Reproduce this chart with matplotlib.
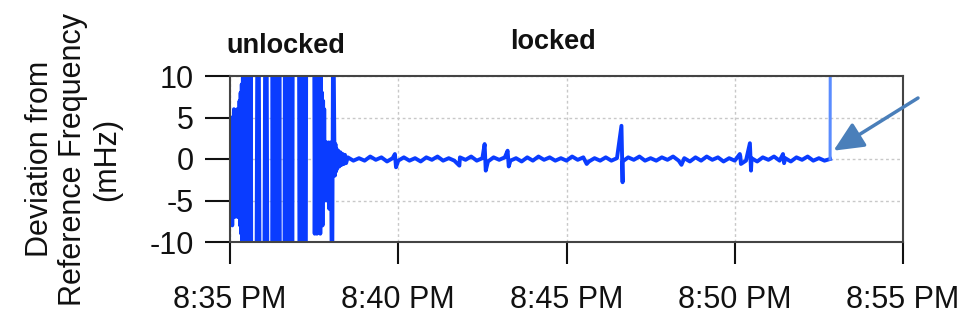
import numpy as np
import matplotlib
matplotlib.use("Agg")
import matplotlib.pyplot as plt

plt.rcParams['font.family'] = ['Liberation Sans', 'DejaVu Sans']
plt.rcParams['axes.unicode_minus'] = False

# time in seconds after 8:35:00 PM, deviation in mHz
# unlocked part (values beyond +-10 run off the plot)
t_unlock = [0, 1, 2, 3, 4, 5, 6, 7, 8, 9, 10, 11, 12, 13, 14, 15, 16, 17, 18, 19, 20, 21, 22, 23,
            24, 25, 26, 27, 28, 29, 30, 31, 32, 33, 34, 35, 36, 37, 38,
            47, 49, 51, 53, 61, 63, 65, 67,
            75, 76, 77, 78, 79, 80, 81, 82, 83, 84, 85, 86, 87, 88, 89,
            97, 98, 99, 100, 101, 102, 103, 104, 105, 106, 107, 108, 109, 110, 111, 112,
            123, 124, 126, 127, 130, 131, 135, 136,
            150, 151, 152, 153, 154, 155, 156, 157, 158, 159, 160, 161, 162, 163, 164, 165,
            166, 167, 168, 169, 170, 171, 172, 173, 174, 175, 176, 177, 178, 179, 180,
            182, 184, 186, 187, 188, 189, 190, 191, 193, 195, 197, 199, 201, 203, 205, 207]
dev_unlock = [-3, 4, -6, 5, -8, 3, -5, 6, -7, 4, -6, 5, -4, 6, -7, 5, -6, 7, -8, 8, -9, 9, -10, 11,
              -20, 20, -20, 20, -20, 20, -20, 20, -20, 20, -20, 20, -20, 20, -20,
              -20, 20, 20, -20, -20, 20, 20, -20,
              -20, 20, -20, 20, -20, 20, -20, 20, -20, 20, -20, 20, -20, 20, -20,
              -20, 20, -20, 20, -20, 20, -20, 20, -20, 20, -20, 20, -20, 20, -20, 20,
              20, -20, -20, 20, 20, -20, -20, 20,
              20, -9, 8, -8, 12, -9, 9, -7, 14, -8, 9, -9, 12, -6, 8, -8,
              7, -5, 6, -5, 2, -4, 2, -5, 1, -3, 2, -6, 1, -4, 2,
              -20, 20, 2.5, -2, 1.8, -1.5, 1.2, -1.2, 1, -0.9, 0.8, -0.7, 0.6, -0.6, 0.5, -0.5]

# locked part: readings every 10 s from 210 s
t_lock_start = 210
dev_lock = [0.2, -0.2, 0.1, -0.2, 0.3, -0.1, 0.2, -0.3, 0.1, -0.2,
            0.2, -0.2, 0.1, -0.3, 0.2, -0.1, 0.3, -0.2, 0.1, -0.2,
            0.2, -0.1, 0.3, -0.2, 0.1, -0.3, 0.2, -0.1, 0.2, -0.2,
            0.1, -0.3, 0.2, -0.2, 0.3, -0.1, 0.2, -0.2, 0.1, -0.2,
            0.3, -0.1, 0.2, -0.3, 0.1, -0.2, 0.2, -0.2, 0.1, -0.3,
            0.2, -0.1, 0.3, -0.2, 0.1, -0.2, 0.2, -0.1, 0.3, -0.2,
            0.1, -0.3, 0.2, -0.2, 0.3, -0.1, 0.2, -0.3, 0.1, -0.2,
            0.3, -0.2, 0.1, -0.3, 0.2, -0.1, 0.3, -0.2, 0.1, -0.3,
            0.2, -0.1, 0.3, -0.2, 0.1, -0.2, 0.0]

# short glitches while locked
t_spike = [294, 296, 409, 454, 456, 495, 497, 636, 698, 700, 805, 909, 911, 927, 929, 986, 988]
dev_spike = [0.6, -1.0, -0.8, 1.8, -1.4, 1.0, -0.9, -0.6, 4.0, -2.8, -0.7, 0.6, -0.6, 1.9, -1.4, 0.6, -0.5]

# end of record: trace jumps off scale
t_end = [1070, 1070.5]
dev_end = [0.0, 20]

xtick_min = [0, 5, 10, 15, 20]
xtick_labels = ["8:35 PM", "8:40 PM", "8:45 PM", "8:50 PM", "8:55 PM"]
yticks = [10, 5, 0, -5, -10]

# merge locked baseline and glitches
t_lock = t_lock_start + 10 * np.arange(len(dev_lock))
t_all = np.concatenate([t_lock, t_spike])
d_all = np.concatenate([dev_lock, dev_spike])
order = np.argsort(t_all)
t_all = np.concatenate([t_unlock, t_all[order]])
d_all = np.concatenate([dev_unlock, d_all[order]])

fig = plt.figure(figsize=(9.71, 3.25), dpi=100)
ax = fig.add_axes([230 / 971, 1 - 242 / 325, 673 / 971, 166 / 325])

ax.plot(t_all / 60, d_all, color='#0a3cff', lw=2.8)
ax.plot(np.array(t_end) / 60, dev_end, color='#5a8cff', lw=2.2)

ax.set_xlim(0, 20)
ax.set_ylim(-10, 10)
ax.set_xticks(xtick_min)
ax.set_xticklabels(xtick_labels)
ax.set_yticks(yticks)
ax.tick_params(axis='both', labelsize=22, colors='#111111', width=1.5)
ax.tick_params(axis='y', length=18, pad=8)
ax.tick_params(axis='x', length=16, pad=15)
for sp in ax.spines.values():
    sp.set_color('#444444')
    sp.set_linewidth(1.5)
ax.grid(True, color='#c8c8c8', linestyle=(0, (2, 2)), lw=1)

ax.set_ylabel("Deviation from\nReference Frequency\n(mHz)", fontsize=22,
              linespacing=1.15, labelpad=20, color='#111111')

fig.text(286 / 971, 1 - 46 / 325, "unlocked", fontsize=19.5, fontweight='bold',
         ha='center', va='center', color='#111111')
fig.text(553 / 971, 1 - 42 / 325, "locked", fontsize=19.5, fontweight='bold',
         ha='center', va='center', color='#111111')

ax.annotate("", xy=(1076 / 60, 1.0), xycoords='data',
            xytext=(918 / 971, 1 - 98 / 325), textcoords='figure fraction',
            arrowprops=dict(arrowstyle='-|>,head_length=1.3,head_width=0.6',
                            color='#4a7fba', lw=2.5, mutation_scale=14,
                            shrinkA=0, shrinkB=0))

fig.savefig("out.png", dpi=100)
